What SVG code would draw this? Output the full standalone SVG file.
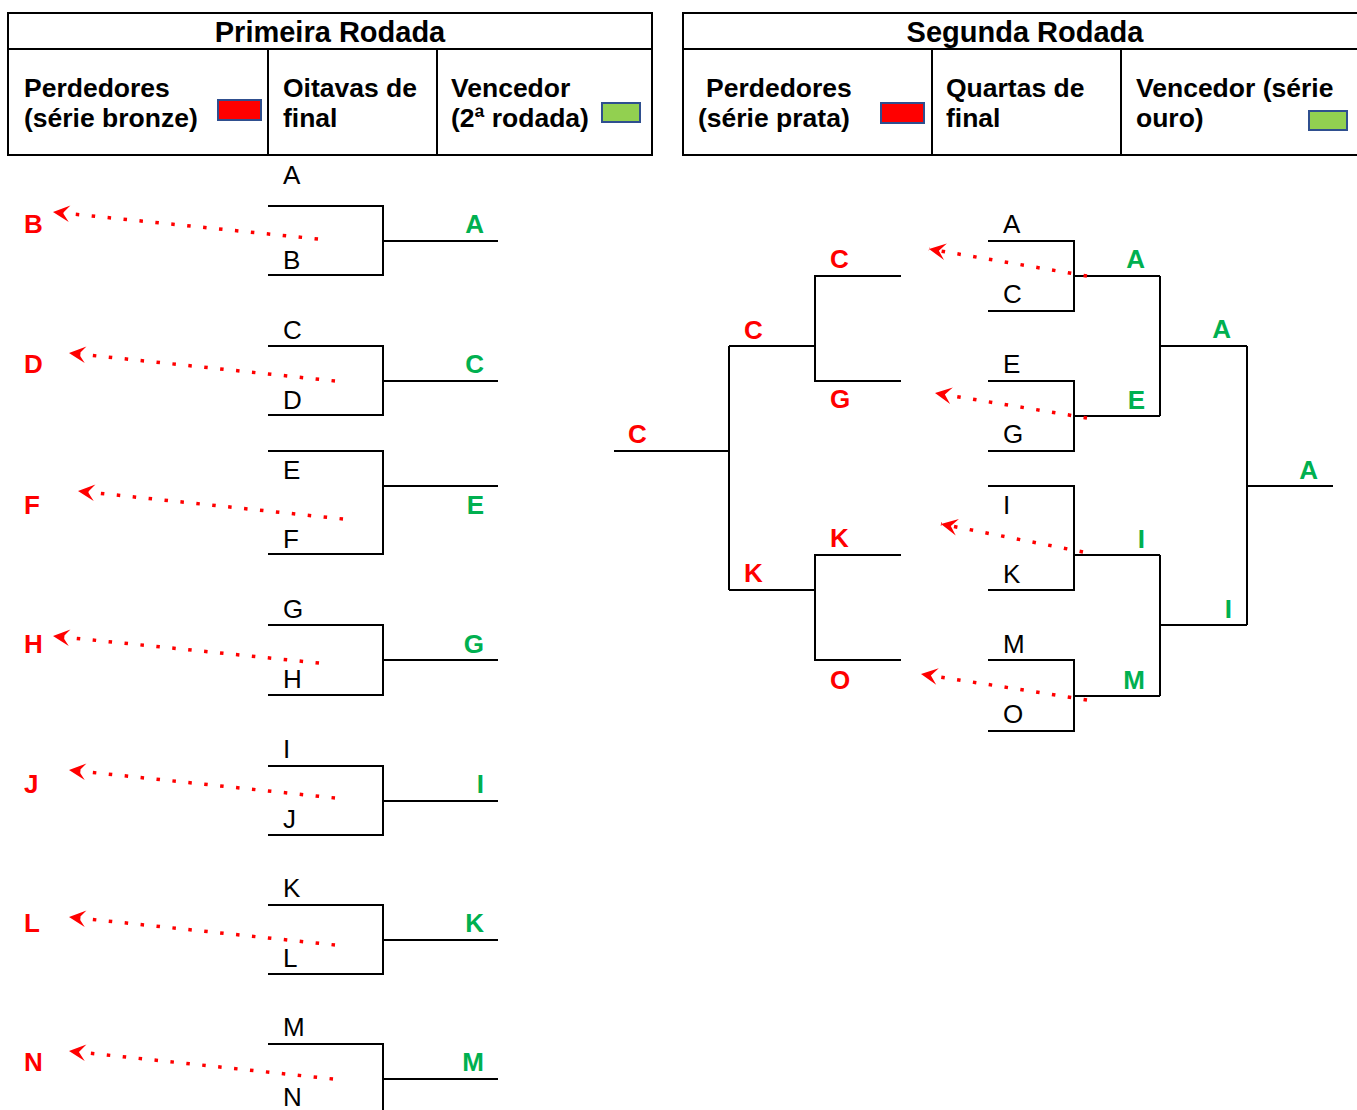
<svg xmlns="http://www.w3.org/2000/svg" width="1357" height="1110" viewBox="0 0 1357 1110">
<style>
text{font-family:"Liberation Sans",Arial,sans-serif}
.t{font-size:29px;font-weight:bold;fill:#000;text-anchor:middle}
.h{font-size:26.5px;font-weight:bold;fill:#000}
.k{font-size:26px;fill:#000}
.r{font-size:26px;font-weight:bold;fill:#FF0000}
.g{font-size:26px;font-weight:bold;fill:#00B050;text-anchor:end}
.ln{fill:none;stroke:#000;stroke-width:2}
.sw{stroke:#2F4F8F;stroke-width:2}
.dot{fill:none;stroke:#FF0000;stroke-width:3.5;stroke-dasharray:3.5 12.5}
</style>
<defs>
<marker id="ah" markerUnits="userSpaceOnUse" orient="auto" refX="0" refY="0" markerWidth="20" markerHeight="20" viewBox="-16 -9 18 18" overflow="visible">
<path d="M0,0 L-15,-7.5 L-9,0 L-15,7.5 Z" fill="#FF0000"/>
</marker>
</defs>
<rect width="1357" height="1110" fill="#fff"/>

<g id="header-left">
<rect class="ln" x="8" y="13" width="644" height="142"/>
<path class="ln" d="M8,49H652M268,49V155M437,49V155"/>
<text class="t" x="330" y="42">Primeira Rodada</text>
<text class="h" x="24" y="97">Perdedores</text>
<text class="h" x="24" y="127">(série bronze)</text>
<rect class="sw" x="218" y="100" width="43" height="20" fill="#FF0000"/>
<text class="h" x="283" y="97">Oitavas de</text>
<text class="h" x="283" y="127">final</text>
<text class="h" x="451" y="97">Vencedor</text>
<text class="h" x="451" y="127">(2ª rodada)</text>
<rect class="sw" x="602" y="103" width="38" height="19" fill="#92D050"/>
</g>

<g id="header-right">
<path class="ln" d="M1357,13H683V155H1357M683,49H1357M932,49V155M1121,49V155"/>
<text class="t" x="1025" y="42">Segunda Rodada</text>
<text class="h" x="706" y="97">Perdedores</text>
<text class="h" x="698" y="127">(série prata)</text>
<rect class="sw" x="881" y="103" width="43" height="20" fill="#FF0000"/>
<text class="h" x="946" y="97">Quartas de</text>
<text class="h" x="946" y="127">final</text>
<text class="h" x="1136" y="97">Vencedor (série</text>
<text class="h" x="1136" y="127">ouro)</text>
<rect class="sw" x="1309" y="111" width="38" height="19" fill="#92D050"/>
</g>

<g id="r1-AB">
<path class="ln" d="M268,206H383V275H268M383,241H498"/>
<text class="k" x="283" y="184">A</text><text class="k" x="283" y="269">B</text>
<text class="r" x="24" y="233">B</text><text class="g" x="484" y="233">A</text>
</g>
<g id="r1-CD">
<path class="ln" d="M268,346H383V415H268M383,381H498"/>
<text class="k" x="283" y="339">C</text><text class="k" x="283" y="409">D</text>
<text class="r" x="24" y="373">D</text><text class="g" x="484" y="373">C</text>
</g>
<g id="r1-EF">
<path class="ln" d="M268,451H383V554H268M383,486H498"/>
<text class="k" x="283" y="479">E</text><text class="k" x="283" y="548">F</text>
<text class="r" x="24" y="514">F</text><text class="g" x="484" y="514">E</text>
</g>
<g id="r1-GH">
<path class="ln" d="M268,625H383V695H268M383,660H498"/>
<text class="k" x="283" y="618">G</text><text class="k" x="283" y="688">H</text>
<text class="r" x="24" y="653">H</text><text class="g" x="484" y="653">G</text>
</g>
<g id="r1-IJ">
<path class="ln" d="M268,766H383V835H268M383,801H498"/>
<text class="k" x="283" y="758">I</text><text class="k" x="283" y="828">J</text>
<text class="r" x="24" y="793">J</text><text class="g" x="484" y="793">I</text>
</g>
<g id="r1-KL">
<path class="ln" d="M268,905H383V974H268M383,940H498"/>
<text class="k" x="283" y="897">K</text><text class="k" x="283" y="967">L</text>
<text class="r" x="24" y="932">L</text><text class="g" x="484" y="932">K</text>
</g>
<g id="r1-MN">
<path class="ln" d="M268,1044H383V1114M383,1079H498"/>
<text class="k" x="283" y="1036">M</text><text class="k" x="283" y="1106">N</text>
<text class="r" x="24" y="1071">N</text><text class="g" x="484" y="1071">M</text>
</g>

<g id="qf-AC">
<path class="ln" d="M988,241H1074V311H988M1074,276H1160"/>
<text class="k" x="1003" y="233">A</text><text class="k" x="1003" y="303">C</text>
<text class="g" x="1145" y="268">A</text>
</g>
<g id="qf-EG">
<path class="ln" d="M988,381H1074V451H988M1074,416H1160"/>
<text class="k" x="1003" y="373">E</text><text class="k" x="1003" y="443">G</text>
<text class="g" x="1145" y="409">E</text>
</g>
<g id="qf-IK">
<path class="ln" d="M988,486H1074V590H988M1074,555H1160"/>
<text class="k" x="1003" y="514">I</text><text class="k" x="1003" y="583">K</text>
<text class="g" x="1145" y="548">I</text>
</g>
<g id="qf-MO">
<path class="ln" d="M988,660H1074V731H988M1074,696H1160"/>
<text class="k" x="1003" y="653">M</text><text class="k" x="1003" y="723">O</text>
<text class="g" x="1145" y="689">M</text>
</g>
<g id="sf-top">
<path class="ln" d="M1160,276V416M1160,346H1247"/>
<text class="g" x="1231" y="338">A</text>
</g>
<g id="sf-bottom">
<path class="ln" d="M1160,555V696M1160,625H1247"/>
<text class="g" x="1232" y="618">I</text>
</g>
<g id="final-gold">
<path class="ln" d="M1247,346V625M1247,486H1333"/>
<text class="g" x="1318" y="479">A</text>
</g>

<g id="silver-CG">
<path class="ln" d="M901,276H815V381H901M729,346H815"/>
<text class="r" x="830" y="268">C</text><text class="r" x="830" y="408">G</text>
<text class="r" x="744" y="339">C</text>
</g>
<g id="silver-KO">
<path class="ln" d="M901,555H815V660H901M729,590H815"/>
<text class="r" x="830" y="547">K</text><text class="r" x="830" y="689">O</text>
<text class="r" x="744" y="582">K</text>
</g>
<g id="silver-final">
<path class="ln" d="M729,346V590M614,451H729"/>
<text class="r" x="628" y="443">C</text>
</g>

<g id="connectors">
<path class="dot" marker-end="url(#ah)" d="M318,239L53,212"/>
<path class="dot" marker-end="url(#ah)" d="M335,381L69,353"/>
<path class="dot" marker-end="url(#ah)" d="M343,519L78,491"/>
<path class="dot" marker-end="url(#ah)" d="M319,663L53,636"/>
<path class="dot" marker-end="url(#ah)" d="M335,798L69,770"/>
<path class="dot" marker-end="url(#ah)" d="M335,945L69,917"/>
<path class="dot" marker-end="url(#ah)" d="M333,1079L69,1051"/>
<path class="dot" marker-end="url(#ah)" d="M1087,276L929,249"/>
<path class="dot" marker-end="url(#ah)" d="M1087,418L935,393"/>
<path class="dot" marker-end="url(#ah)" d="M1083,552L941,524"/>
<path class="dot" marker-end="url(#ah)" d="M1087,700L921,674"/>
</g>
</svg>
